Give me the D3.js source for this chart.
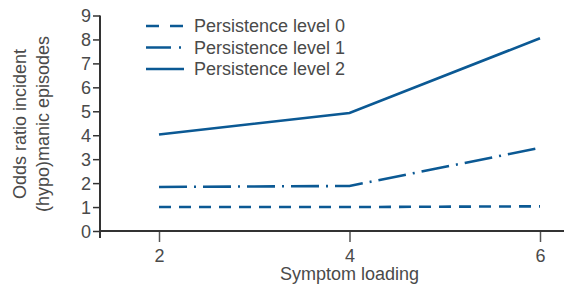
<!DOCTYPE html>
<html>
<head>
<meta charset="utf-8">
<script src="https://cdn.jsdelivr.net/npm/d3@7"></script>
<style>
  body { margin: 0; background: #fff; }
  svg text { font-family: "Liberation Sans", Arial, sans-serif; fill: #4a4a4a; }
</style>
</head>
<body>
<svg id="chart" width="564" height="289"></svg>
<script>
// values
const symptomLoading = [2, 4, 6];
const level0 = [1.0, 1.0, 1.03];
const level1 = [1.84, 1.88, 3.47];
const level2 = [4.03, 4.93, 8.05];
const seriesNames = ['Persistence level 0', 'Persistence level 1', 'Persistence level 2'];
const yTicks = [0, 1, 2, 3, 4, 5, 6, 7, 8, 9];

const BLUE = '#0b5994';
const dashes = ['12,8', '28,7,2,7', null];

const svg = d3.select('#chart');
const x = d3.scaleLinear().domain([2, 6]).range([159, 540]);
const y = d3.scaleLinear().domain([0, 9]).range([231, 15.5]);

// y axis
const yAxis = svg.append('g')
    .attr('transform', 'translate(100,0)')
    .call(d3.axisLeft(y).tickValues(yTicks).tickFormat(d3.format('d')).tickSize(7).tickSizeOuter(0));
yAxis.select('.domain').remove();
yAxis.selectAll('line').attr('stroke', '#333').attr('stroke-width', 1.5);
yAxis.selectAll('text').attr('x', -9).attr('dy', '0.36em').style('font-size', '18px');
svg.append('line')
    .attr('x1', 100).attr('x2', 100)
    .attr('y1', y(9)).attr('y2', 238)
    .attr('stroke', '#333').attr('stroke-width', 2);

// x axis
const xAxis = svg.append('g')
    .attr('transform', 'translate(0,231)')
    .call(d3.axisBottom(x).tickValues(symptomLoading).tickFormat(d3.format('d')).tickSize(11).tickSizeOuter(0));
xAxis.select('.domain').remove();
xAxis.selectAll('line').attr('stroke', '#555').attr('stroke-width', 1.5);
xAxis.selectAll('text').attr('y', 18).style('font-size', '18px');
svg.append('line')
    .attr('x1', 100).attr('x2', 564)
    .attr('y1', 231).attr('y2', 231)
    .attr('stroke', '#333').attr('stroke-width', 2);

// axis titles
svg.append('text')
    .attr('x', x(4)).attr('y', 280)
    .attr('text-anchor', 'middle')
    .style('font-size', '18px')
    .text('Symptom loading');

const yTitle = svg.append('text')
    .attr('transform', 'translate(26,124) rotate(-90)')
    .attr('text-anchor', 'middle')
    .style('font-size', '18px');
yTitle.append('tspan').attr('x', 0).attr('y', 0).text('Odds ratio incident');
yTitle.append('tspan').attr('x', 0).attr('y', 23).text('(hypo)manic episodes');

// lines
const line = d3.line()
    .x((d, i) => x(symptomLoading[i]))
    .y(d => y(d));

[level0, level1, level2].forEach((vals, i) => {
  svg.append('path')
      .datum(vals)
      .attr('d', line)
      .attr('fill', 'none')
      .attr('stroke', BLUE)
      .attr('stroke-width', 2.6)
      .attr('stroke-dasharray', dashes[i]);
});

// legend
const legend = svg.append('g');
seriesNames.forEach((name, i) => {
  const ly = 26 + i * 21.5;
  legend.append('line')
      .attr('x1', 146).attr('x2', 184)
      .attr('y1', ly).attr('y2', ly)
      .attr('stroke', BLUE)
      .attr('stroke-width', 2.6)
      .attr('stroke-dasharray', i === 0 ? '13,11' : i === 1 ? '25,8,2,7' : null);
  legend.append('text')
      .attr('x', 194).attr('y', ly)
      .attr('dy', '0.36em')
      .style('font-size', '18px')
      .text(name);
});
</script>
</body>
</html>
